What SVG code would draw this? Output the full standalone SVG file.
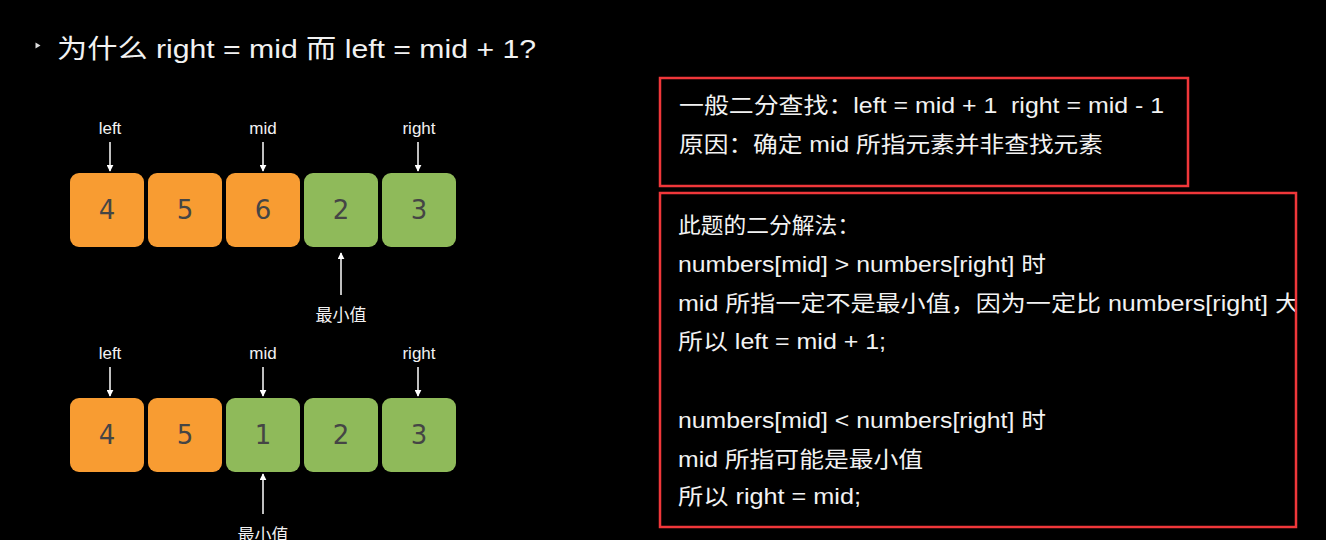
<svg xmlns="http://www.w3.org/2000/svg" width="1326" height="540" viewBox="0 0 1326 540">
<defs>
<style>
.bg{fill:#000}
.t{font-family:"Liberation Sans","Noto Sans CJK SC",sans-serif;fill:#f2f2f2}
.title{font-size:26px}
.lab{font-size:17px;text-anchor:middle}
.body{font-size:22px}
.num{font-family:"DejaVu Sans","Liberation Sans",sans-serif;font-size:26px;fill:#454545;text-anchor:middle;dominant-baseline:central}
.or{fill:#F89C32}
.gr{fill:#8FBA5A}
.ar{stroke:#fff;stroke-width:1.5;fill:none}
.red{fill:none;stroke:#F0373A;stroke-width:2.5}
</style>
<marker id="ah" viewBox="0 0 10 10" refX="9" refY="5" markerWidth="7" markerHeight="7" markerUnits="userSpaceOnUse" orient="auto">
<path d="M0,0 L10,5 L0,10 z" fill="#fff"/>
</marker>
</defs>
<rect class="bg" x="0" y="0" width="1326" height="540"/>

<g id="title">
<path d="M35.5,42.5 L40.5,45.5 L35.5,48.5 z" fill="#ddd"/>
<text class="t title" x="57" y="58" textLength="479" lengthAdjust="spacingAndGlyphs">为什么 right = mid 而 left = mid + 1?</text>
</g>

<g id="row1">
<g id="r1b1"><rect class="or" x="70" y="173" width="74" height="74" rx="9"/><text class="num" x="107" y="210">4</text></g>
<g id="r1b2"><rect class="or" x="148" y="173" width="74" height="74" rx="9"/><text class="num" x="185" y="210">5</text></g>
<g id="r1b3"><rect class="or" x="226" y="173" width="74" height="74" rx="9"/><text class="num" x="263" y="210">6</text></g>
<g id="r1b4"><rect class="gr" x="304" y="173" width="74" height="74" rx="9"/><text class="num" x="341" y="210">2</text></g>
<g id="r1b5"><rect class="gr" x="382" y="173" width="74" height="74" rx="9"/><text class="num" x="419" y="210">3</text></g>
<text class="t lab" x="110" y="134">left</text>
<text class="t lab" x="263" y="134">mid</text>
<text class="t lab" x="419" y="134">right</text>
<text class="t lab" x="341" y="321">最小值</text>
</g>

<g id="row2">
<g id="r2b1"><rect class="or" x="70" y="398" width="74" height="74" rx="9"/><text class="num" x="107" y="435">4</text></g>
<g id="r2b2"><rect class="or" x="148" y="398" width="74" height="74" rx="9"/><text class="num" x="185" y="435">5</text></g>
<g id="r2b3"><rect class="gr" x="226" y="398" width="74" height="74" rx="9"/><text class="num" x="263" y="435">1</text></g>
<g id="r2b4"><rect class="gr" x="304" y="398" width="74" height="74" rx="9"/><text class="num" x="341" y="435">2</text></g>
<g id="r2b5"><rect class="gr" x="382" y="398" width="74" height="74" rx="9"/><text class="num" x="419" y="435">3</text></g>
<text class="t lab" x="110" y="359">left</text>
<text class="t lab" x="263" y="359">mid</text>
<text class="t lab" x="419" y="359">right</text>
<text class="t lab" x="263" y="541">最小值</text>
</g>

<g id="connectors">
<line class="ar" x1="110" y1="142" x2="110" y2="171" marker-end="url(#ah)"/>
<line class="ar" x1="263" y1="142" x2="263" y2="171" marker-end="url(#ah)"/>
<line class="ar" x1="418" y1="142" x2="418" y2="171" marker-end="url(#ah)"/>
<line class="ar" x1="341" y1="295" x2="341" y2="253" marker-end="url(#ah)"/>
<line class="ar" x1="110" y1="367" x2="110" y2="396" marker-end="url(#ah)"/>
<line class="ar" x1="263" y1="367" x2="263" y2="396" marker-end="url(#ah)"/>
<line class="ar" x1="418" y1="367" x2="418" y2="396" marker-end="url(#ah)"/>
<line class="ar" x1="263" y1="514" x2="263" y2="474" marker-end="url(#ah)"/>
</g>

<g id="box1">
<text class="t body" x="679" y="113" xml:space="preserve" textLength="485" lengthAdjust="spacingAndGlyphs">一般二分查找：left = mid + 1  right = mid - 1</text>
<text class="t body" x="679" y="152" textLength="424" lengthAdjust="spacingAndGlyphs">原因：确定 mid 所指元素并非查找元素</text>
<rect class="red" x="660" y="78" width="528" height="108"/>
</g>

<g id="box2">
<text class="t body" x="678" y="233" textLength="182" lengthAdjust="spacingAndGlyphs">此题的二分解法：</text>
<text class="t body" x="678" y="272" textLength="368" lengthAdjust="spacingAndGlyphs">numbers[mid] &gt; numbers[right] 时</text>
<text class="t body" x="678" y="311" textLength="622" lengthAdjust="spacingAndGlyphs">mid 所指一定不是最小值，因为一定比 numbers[right] 大</text>
<text class="t body" x="678" y="349" textLength="208" lengthAdjust="spacingAndGlyphs">所以 left = mid + 1;</text>
<text class="t body" x="678" y="428" textLength="368" lengthAdjust="spacingAndGlyphs">numbers[mid] &lt; numbers[right] 时</text>
<text class="t body" x="678" y="467" textLength="245" lengthAdjust="spacingAndGlyphs">mid 所指可能是最小值</text>
<text class="t body" x="678" y="504" textLength="183" lengthAdjust="spacingAndGlyphs">所以 right = mid;</text>
<rect class="bg" x="1297" y="193" width="29" height="140"/>
<rect class="red" x="660" y="193" width="636" height="334"/>
</g>
</svg>
